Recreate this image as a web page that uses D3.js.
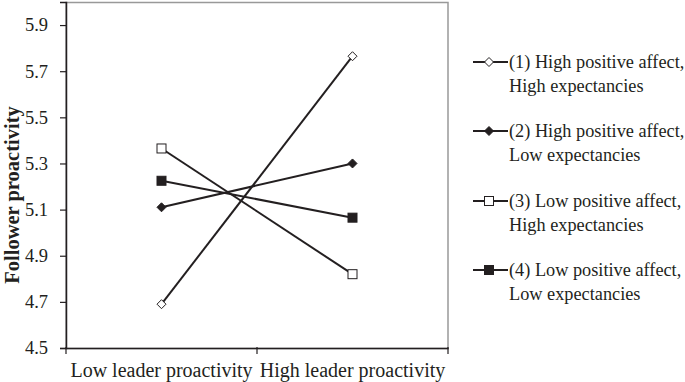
<!DOCTYPE html>
<html><head><meta charset="utf-8">
<script src="https://cdn.jsdelivr.net/npm/d3@7"></script>
<style>body{margin:0;background:#fff}svg{display:block}text{font-family:"Liberation Serif","Times New Roman",serif;fill:#231f20}</style>
</head><body><svg id="c" width="685" height="382"></svg>
<script>
const categories = ["Low leader proactivity", "High leader proactivity"];
const seriesNames = [["(1) High positive affect,", "High expectancies"],
                     ["(2) High positive affect,", "Low expectancies"],
                     ["(3) Low positive affect,", "High expectancies"],
                     ["(4) Low positive affect,", "Low expectancies"]];
const series1 = [4.69, 5.765];
const series2 = [5.11, 5.30];
const series3 = [5.365, 4.82];
const series4 = [5.225, 5.065];
const yTicks = [4.5, 4.7, 4.9, 5.1, 5.3, 5.5, 5.7, 5.9];
const markerTypes = ["diamondOpen", "diamondFilled", "squareOpen", "squareFilled"];
const allSeries = [series1, series2, series3, series4];

const svg = d3.select("#c");
const L = 66, R = 448, T = 2, B = 348;
const x = d3.scaleBand().domain(categories).range([L, R]);
const y = d3.scaleLinear().domain([4.5, 6.0]).range([B, T]);

// frame (top/right gray)
svg.append("rect").attr("x", L).attr("y", T + 0.5).attr("width", R - L).attr("height", B - T)
  .attr("fill", "none").attr("stroke", "#999").attr("stroke-width", 1.5);

// y axis
const ya = svg.append("g").attr("transform", `translate(${L},0)`)
  .call(d3.axisLeft(y).tickValues(yTicks).tickFormat(d3.format(".1f")).tickSizeOuter(0).tickSize(6));
ya.select(".domain").attr("stroke", "#231f20").attr("stroke-width", 1.5);
ya.selectAll(".tick line").attr("stroke", "#231f20").attr("stroke-width", 1.2);
ya.selectAll(".tick text").attr("font-size", 18.5).attr("x", -18).attr("font-family", "Liberation Serif");

// x axis
const xa = svg.append("g").attr("transform", `translate(0,${B})`)
  .call(d3.axisBottom(x).tickSize(0).tickSizeOuter(0));
xa.select(".domain").attr("stroke", "#231f20").attr("stroke-width", 1.5);
xa.selectAll(".tick text").attr("font-size", 20).attr("dy", 0).attr("y", 29).attr("font-family", "Liberation Serif");
// category boundary ticks
const bounds = [L, ...categories.slice(1).map(c => x(c)), R];
svg.append("g").selectAll("line").data(bounds).join("line")
  .attr("x1", d => d).attr("x2", d => d).attr("y1", B - 1).attr("y2", B + 6)
  .attr("stroke", "#231f20").attr("stroke-width", 1.2);

// y title
svg.append("text").attr("transform", `translate(18.5,${195}) rotate(-90)`)
  .attr("text-anchor", "middle").attr("font-size", 20.5).attr("font-weight", "bold")
  .text("Follower proactivity");

function drawMarker(g, type, cx, cy) {
  if (type.startsWith("diamond")) {
    const s = 4.5;
    g.append("path").attr("d", `M${cx},${cy - s}L${cx + s},${cy}L${cx},${cy + s}L${cx - s},${cy}Z`)
      .attr("fill", type === "diamondOpen" ? "#fff" : "#231f20").attr("stroke", "#231f20").attr("stroke-width", 1);
  } else {
    const s = 4.5;
    g.append("rect").attr("x", cx - s).attr("y", cy - s).attr("width", 2 * s).attr("height", 2 * s)
      .attr("fill", type === "squareOpen" ? "#fff" : "#231f20").attr("stroke", "#231f20").attr("stroke-width", 1);
  }
}

const cx = c => x(c) + x.bandwidth() / 2;
const line = d3.line().x((d, i) => cx(categories[i])).y(d => y(d));
const gLines = svg.append("g");
allSeries.forEach(s => {
  gLines.append("path").attr("d", line(s)).attr("fill", "none").attr("stroke", "#231f20").attr("stroke-width", 2);
});
allSeries.forEach((s, k) => {
  s.forEach((v, i) => drawMarker(gLines, markerTypes[k], cx(categories[i]), y(v)));
});

// legend
const legY = [62, 131, 201, 270];
seriesNames.forEach((nm, k) => {
  const g = svg.append("g");
  g.append("line").attr("x1", 473).attr("x2", 508).attr("y1", legY[k]).attr("y2", legY[k])
    .attr("stroke", "#231f20").attr("stroke-width", 2);
  drawMarker(g, markerTypes[k], 489, legY[k]);
  g.append("text").attr("x", 509).attr("y", legY[k] + 6).attr("font-size", 18.3).text(nm[0]);
  g.append("text").attr("x", 509).attr("y", legY[k] + 30).attr("font-size", 18.3).text(nm[1]);
});
</script></body></html>
